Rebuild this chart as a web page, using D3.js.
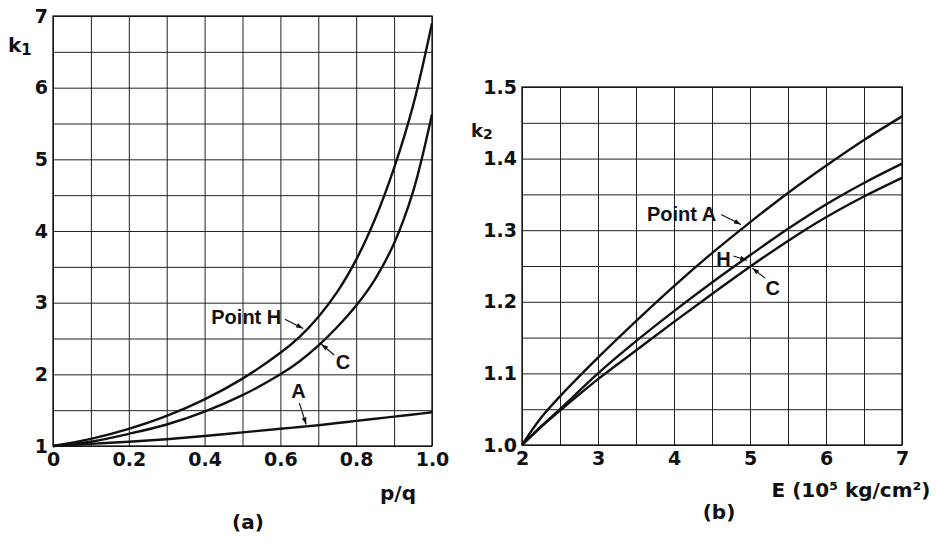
<!DOCTYPE html>
<html>
<head>
<meta charset="utf-8">
<script src="https://cdn.jsdelivr.net/npm/d3@7"></script>
<style>
  body { margin: 0; background: #fff; }
  svg { display: block; }
  .tick text { font-family: "DejaVu Sans", sans-serif; font-weight: bold; fill: #111; }
</style>
</head>
<body>
<svg id="chart" width="937" height="550"></svg>
<script>
// ---------- Data: panel (a) ----------
const pqValues = [0, 0.1, 0.2, 0.3, 0.4, 0.5, 0.6, 0.65, 0.7, 0.75, 0.8, 0.85, 0.9, 0.95, 1.0];
const k1PointH = [1.0, 1.1, 1.24, 1.42, 1.65, 1.94, 2.3, 2.52, 2.8, 3.15, 3.6, 4.17, 4.88, 5.75, 6.9];
const k1PointC = [1.0, 1.06, 1.17, 1.3, 1.48, 1.71, 2.0, 2.18, 2.4, 2.66, 2.96, 3.33, 3.83, 4.55, 5.63];
const k1PointA = [1.0, 1.03, 1.06, 1.095, 1.14, 1.19, 1.24, 1.265, 1.29, 1.32, 1.35, 1.38, 1.41, 1.44, 1.47];
const xTicksA = [0, 0.2, 0.4, 0.6, 0.8, 1.0];
const xTickLabelsA = ["0", "0.2", "0.4", "0.6", "0.8", "1.0"];
const yTicksA = [1, 2, 3, 4, 5, 6, 7];

// ---------- Data: panel (b) ----------
const eValues = [2, 2.25, 2.5, 3, 3.5, 4, 4.5, 5, 5.5, 6, 6.5, 7];
const k2PointA = [1.0, 1.038, 1.068, 1.122, 1.173, 1.222, 1.268, 1.311, 1.352, 1.39, 1.426, 1.459];
const k2PointH = [1.0, 1.026, 1.05, 1.1, 1.145, 1.187, 1.227, 1.265, 1.302, 1.336, 1.366, 1.393];
const k2PointC = [1.0, 1.025, 1.048, 1.092, 1.132, 1.172, 1.211, 1.249, 1.285, 1.318, 1.347, 1.373];
const xTicksB = [2, 3, 4, 5, 6, 7];
const yTicksB = [1.0, 1.1, 1.2, 1.3, 1.4, 1.5];
const yTickLabelsB = ["1.0", "1.1", "1.2", "1.3", "1.4", "1.5"];

const svg = d3.select("#chart");
svg.append("rect").attr("width", 937).attr("height", 550).attr("fill", "#fff");

svg.append("defs").append("marker")
  .attr("id", "arrow").attr("viewBox", "0 0 10 10").attr("refX", 10).attr("refY", 5)
  .attr("markerWidth", 7).attr("markerHeight", 7).attr("orient", "auto-start-reverse")
  .attr("markerUnits", "userSpaceOnUse")
  .append("path").attr("d", "M0,1.5 L10,5 L0,8.5 Z").attr("fill", "#111");

function panel(cfg) {
  const g = svg.append("g");
  const x = d3.scaleLinear().domain(cfg.xDomain).range(cfg.xRange);
  const y = d3.scaleLinear().domain(cfg.yDomain).range(cfg.yRange);
  const h = cfg.yRange[0] - cfg.yRange[1];
  const w = cfg.xRange[1] - cfg.xRange[0];

  // grid
  g.append("g").attr("transform", `translate(0,${cfg.yRange[0]})`)
    .call(d3.axisBottom(x).tickValues(cfg.xGrid).tickSize(-h).tickFormat(""))
    .call(a => a.select(".domain").remove())
    .selectAll("line").attr("stroke", "#222").attr("stroke-width", 1);
  g.append("g").attr("transform", `translate(${cfg.xRange[0]},0)`)
    .call(d3.axisLeft(y).tickValues(cfg.yGrid).tickSize(-w).tickFormat(""))
    .call(a => a.select(".domain").remove())
    .selectAll("line").attr("stroke", "#222").attr("stroke-width", 1);

  // frame
  g.append("rect").attr("x", cfg.xRange[0]).attr("y", cfg.yRange[1])
    .attr("width", w).attr("height", h).attr("fill", "none")
    .attr("stroke", "#111").attr("stroke-width", 1.3);

  // tick labels
  const xa = g.append("g").attr("transform", `translate(0,${cfg.yRange[0]})`)
    .call(d3.axisBottom(x).tickValues(cfg.xTicks).tickSize(0).tickPadding(7)
      .tickFormat((d, i) => cfg.xLabels[i]));
  xa.select(".domain").remove();
  xa.selectAll("text").attr("font-size", 19);
  const ya = g.append("g").attr("transform", `translate(${cfg.xRange[0]},0)`)
    .call(d3.axisLeft(y).tickValues(cfg.yTicks).tickSize(0).tickPadding(5)
      .tickFormat((d, i) => cfg.yLabels[i]));
  ya.select(".domain").remove();
  ya.selectAll("text").attr("font-size", 19);

  // curves
  const line = d3.line().x(d => x(d[0])).y(d => y(d[1])).curve(d3.curveCatmullRom.alpha(0.5));
  cfg.series.forEach(s => {
    g.append("path").datum(cfg.xs.map((v, i) => [v, s[i]]))
      .attr("d", line).attr("fill", "none").attr("stroke", "#111")
      .attr("stroke-width", 2.4).attr("stroke-linejoin", "round");
  });

  // annotations
  cfg.notes.forEach(n => {
    g.append("text").attr("x", x(n.tx)).attr("y", y(n.ty))
      .attr("text-anchor", "middle").attr("dy", "0.36em")
      .attr("font-family", "Liberation Sans, Arial, sans-serif").attr("font-weight", "bold")
      .attr("font-size", 20).attr("fill", "#111").text(n.text);
    g.append("line").attr("x1", x(n.a[0])).attr("y1", y(n.a[1]))
      .attr("x2", x(n.b[0])).attr("y2", y(n.b[1]))
      .attr("stroke", "#111").attr("stroke-width", 1.1).attr("marker-end", "url(#arrow)");
  });
  return { x, y };
}

panel({
  xDomain: [0, 1], xRange: [53, 432], yDomain: [1, 7], yRange: [446, 16],
  xGrid: d3.range(0, 11).map(i => i / 10), yGrid: d3.range(0, 13).map(i => 1 + i / 2),
  xTicks: xTicksA, xLabels: xTickLabelsA, yTicks: yTicksA, yLabels: yTicksA.map(String),
  xs: pqValues, series: [k1PointH, k1PointC, k1PointA],
  notes: [
    { text: "Point H", tx: 0.51, ty: 2.8, a: [0.612, 2.77], b: [0.66, 2.64] },
    { text: "C", tx: 0.765, ty: 2.17, a: [0.742, 2.27], b: [0.708, 2.42] },
    { text: "A", tx: 0.648, ty: 1.77, a: [0.65, 1.6], b: [0.668, 1.3] }
  ]
});

panel({
  xDomain: [2, 7], xRange: [522, 902], yDomain: [1, 1.5], yRange: [445, 87],
  xGrid: d3.range(0, 11).map(i => 2 + i / 2), yGrid: d3.range(0, 11).map(i => 1 + i / 20),
  xTicks: xTicksB, xLabels: xTicksB.map(String), yTicks: yTicksB, yLabels: yTickLabelsB,
  xs: eValues, series: [k2PointA, k2PointH, k2PointC],
  notes: [
    { text: "Point A", tx: 4.1, ty: 1.323, a: [4.62, 1.322], b: [4.88, 1.308] },
    { text: "H", tx: 4.65, ty: 1.26, a: [4.78, 1.264], b: [4.96, 1.258] },
    { text: "C", tx: 5.3, ty: 1.219, a: [5.2, 1.233], b: [5.03, 1.247] }
  ]
});

// axis titles and panel captions
const tfont = "DejaVu Sans, sans-serif";
function label(x, y, anchor) {
  return svg.append("text").attr("x", x).attr("y", y).attr("text-anchor", anchor || "middle")
    .attr("font-family", tfont).attr("font-weight", "bold").attr("font-size", 20).attr("fill", "#111");
}
const k1 = label(8, 52, "start");
k1.append("tspan").text("k");
k1.append("tspan").attr("font-size", 15).attr("dy", 3).text("1");
const k2 = label(471, 137, "start");
k2.append("tspan").attr("font-size", 18).text("k");
k2.append("tspan").attr("font-size", 14).attr("dy", 2).text("2");
label(398, 500).text("p/q");
label(248, 529).text("(a)");
label(851, 497).text("E (10⁵ kg/cm²)");
label(719, 519).text("(b)");
</script>
</body>
</html>
